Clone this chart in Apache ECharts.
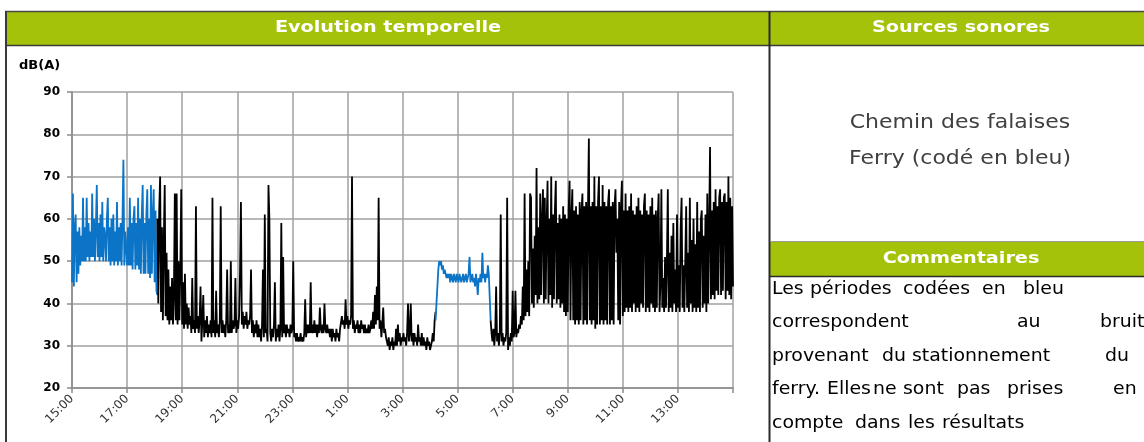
<!DOCTYPE html>
<html><head><meta charset="utf-8">
<script src="https://cdn.jsdelivr.net/npm/echarts@6/dist/echarts.min.js"></script>
<style>html,body{margin:0;padding:0;background:#fff}#c{width:1144px;height:442px}</style>
</head><body><div id="c"></div>
<script>
// ---- tick labels ----
const xTickLabels = ['15:00','17:00','19:00','21:00','23:00','1:00','3:00','5:00','7:00','9:00','11:00','13:00',''];
const yMin = 20, yMax = 90, yStep = 10;
const xSpanMinutes = 1440, xTickMinutes = 120;
const stepMinutes = 2; // sampling step of the series below (minutes)

// ---- series values dB(A) ----
// Ferry (blue) 15:00 -> 18:06
const blueEveningStart = 0;
const blueEvening = [
45,66,44,58,61,45,57,47,58,49, 56,50,65,50,58,50,65,51,59,50,
57,51,66,51,60,50,58,68,51,59, 50,61,51,64,50,58,56,50,60,65,
50,58,49,60,50,61,49,57,50,64, 49,58,50,59,49,60,74,49,57,53,
49,58,49,65,49,59,48,60,63,48, 59,49,65,48,60,47,61,68,47,59,
47,61,67,47,60,46,68,47,61,67, 45,62,43,42
];
// Night (black) 18:06 -> 4:12
const blackNightStart = 186;
const blackNight = [
60,40,62,70,38,58,36,55,68,37, 52,36,48,35,44,36,46,35,42,66,
36,66,35,50,36,48,67,35,45,34, 47,35,40,34,39,35,37,33,46,34,
36,33,63,34,37,33,36,44,31,36, 42,32,36,33,37,32,35,33,36,32,
65,33,36,32,43,33,35,32,36,63, 33,36,33,35,32,36,48,33,35,33,
50,33,36,34,35,46,33,36,34,37, 47,64,35,38,34,37,35,38,34,36,
35,37,48,33,36,32,35,33,36,32, 35,32,34,31,35,48,32,61,33,34,
31,68,60,33,31,34,32,35,45,31, 34,32,35,31,34,59,32,51,33,35,
32,35,33,34,32,35,33,34,50,32, 33,31,33,31,32,31,33,31,32,31,
33,41,32,35,33,35,33,45,33,35, 33,36,33,35,32,35,33,39,34,33,
35,33,40,34,33,35,33,34,32,34, 31,34,32,33,31,34,32,33,31,34,
34,37,35,36,34,41,35,37,34,36, 35,37,70,34,36,33,35,34,36,33,
35,33,36,34,35,33,35,33,34,33, 35,33,34,36,34,38,34,42,35,44,
36,65,34,36,32,35,39,33,34,32, 31,30,32,29,31,30,32,29,31,30,
34,30,35,31,33,30,32,31,33,31, 32,30,33,40,31,33,40,31,33,30,
33,31,32,30,35,31,32,30,33,30, 32,30,31,29,32,30,31,29,29,31,
33,31,36,38
];
// Ferry (blue) 4:12 -> 6:12
const blueMorningStart = 792;
const blueMorning = [
36,40,44,48,50,49,50,48,49,47, 48,47,46,47,46,47,45,47,46,45,
47,46,45,47,46,45,47,46,45,46, 47,45,46,47,45,46,47,51,45,46,
47,45,46,44,47,45,42,46,45,47, 45,52,46,47,45,47,46,49,47,47,
36
];
// Day (black) 6:12 -> 15:00
const blackDayStart = 912;
const blackDay = [
36,33,31,34,30,33,44,31,33,30, 33,61,31,33,30,32,31,33,65,29,
32,30,33,31,43,32,33,43,32,34, 33,35,34,37,35,44,36,66,37,48,
38,50,37,66,65,40,53,39,56,42, 72,40,58,41,66,42,60,67,40,65,
41,59,69,40,60,42,70,39,61,41, 62,69,40,59,41,61,39,60,40,63,
38,61,37,60,38,62,69,36,61,67, 36,62,35,63,36,61,35,64,36,62,
66,35,63,36,64,35,62,79,36,63, 35,64,36,70,34,63,35,64,70,35,
63,36,68,35,64,36,63,35,64,67, 35,63,36,64,35,63,67,52,60,36,
64,35,63,69,37,62,38,66,39,62, 38,63,39,66,38,62,40,61,38,63,
39,65,38,62,40,61,39,63,66,38, 62,39,61,38,63,40,65,39,61,38,
62,39,60,66,38,45,67,39,46,38, 51,39,50,67,38,52,39,56,38,59,
40,48,38,61,39,49,38,58,65,39, 49,38,50,63,39,52,38,65,40,55,
38,60,39,54,38,64,39,57,38,60, 62,39,56,40,61,38,66,40,58,77,
41,62,42,64,41,67,43,63,42,65, 67,42,64,43,65,66,41,64,43,70,
42,65,41,63,44
];

// ---- texts ----
const panelTitle = 'Evolution temporelle';
const sourcesTitle = 'Sources sonores';
const sourcesLines = ['Chemin des falaises', 'Ferry (codé en bleu)'];
const commentsTitle = 'Commentaires';
const yUnit = 'dB(A)';

function toPairs(start, arr) { return arr.map((v, i) => [start + i * stepMinutes, v]); }

const GREEN = '#a5c20b';
const BLUE = '#0b74c6';
const TXT = 'DejaVu Sans, Verdana, sans-serif';

// comment text, word by word (justified in the reference)
const commentWords = [
  [['Les',772],['périodes',810],['codées',903],['en',982],['bleu',1023]],
  [['correspondent',772],['au',1017],['bruit',1100]],
  [['provenant',772],['du',882],['stationnement',912],['du',1105]],
  [['ferry.',772],['Elles',827],['ne',873],['sont',903],['pas',957],['prises',1007],['en',1113]],
  [['compte',772],['dans',855],['les',908],['résultats',942]]
];
const commentY = [289, 322, 356, 389, 423];

const graphic = [];
// header bands
graphic.push({type:'rect', shape:{x:6,y:12,width:763,height:33}, style:{fill:GREEN}, silent:true});
graphic.push({type:'rect', shape:{x:770,y:12,width:374,height:33}, style:{fill:GREEN}, silent:true});
graphic.push({type:'rect', shape:{x:770,y:242,width:374,height:34}, style:{fill:GREEN}, silent:true});
// frame lines
const lines = [
  [5,11.5,1144,11.5,'#4a4a4a',1.5],
  [6,45.5,1144,45.5,'#3a3a3a',1.5],
  [6,11,6,442,'#3a3a3a',2],
  [769.5,11,769.5,442,'#2a2a2a',2],
  [770,241.5,1144,241.5,'#9a9a9a',1],
  [770,276.5,1144,276.5,'#2a2a2a',1.5]
];
lines.forEach(l => graphic.push({type:'line', shape:{x1:l[0],y1:l[1],x2:l[2],y2:l[3]}, style:{stroke:l[4],lineWidth:l[5]}, silent:true}));
// titles (stretched horizontally to mimic the wide geometric face)
const stretchedText = (t, x, y, font, fill, align, sx) => ({type:'text', x, y, scaleX:sx, silent:true,
  style:{text:t, x:0, y:0, fill, font, textAlign:align, textVerticalAlign:'middle'}});
graphic.push(stretchedText(panelTitle, 388, 28, 'bold 16px '+TXT, '#fff', 'center', 1.2));
graphic.push(stretchedText(sourcesTitle, 961, 28, 'bold 16px '+TXT, '#fff', 'center', 1.2));
graphic.push(stretchedText(commentsTitle, 961, 259, 'bold 16px '+TXT, '#fff', 'center', 1.2));
sourcesLines.forEach((t, i) => graphic.push(stretchedText(t, 960, 123 + i*36, '20px '+TXT, '#404040', 'center', 1.1)));
commentWords.forEach((line, li) => line.forEach(w => graphic.push(stretchedText(w[0], w[1], commentY[li], '18px '+TXT, '#000', 'left', 1.05))));
graphic.push({type:'text', silent:true, style:{text:yUnit, x:19, y:66, fill:'#000', font:'bold 13px '+TXT, textAlign:'left', textVerticalAlign:'middle'}});

const chart = echarts.init(document.getElementById('c'), null, {renderer:'canvas'});
const lineSeries = (data, color, w) => ({type:'line', data, showSymbol:false, symbol:'none', sampling:null,
  lineStyle:{color, width:w}, itemStyle:{color}, animation:false, silent:true});

chart.setOption({
  animation:false,
  backgroundColor:'#fff',
  grid:{left:72, right:411, top:92, bottom:54, containLabel:false},
  xAxis:{type:'value', min:0, max:xSpanMinutes, interval:xTickMinutes,
    axisLine:{show:true, lineStyle:{color:'#8a8a8a', width:1.5}},
    axisTick:{show:true, length:5, lineStyle:{color:'#8a8a8a', width:1.5}},
    splitLine:{show:true, lineStyle:{color:'#a0a0a0', width:1.5}},
    axisLabel:{rotate:45, margin:9, fontSize:12, color:'#333', fontFamily:TXT,
      formatter:(v)=> xTickLabels[Math.round(v / xTickMinutes)] || ''}},
  yAxis:{type:'value', min:yMin, max:yMax, interval:yStep,
    axisLine:{show:true, lineStyle:{color:'#8a8a8a', width:1.5}},
    axisTick:{show:true, length:5, lineStyle:{color:'#8a8a8a', width:1.5}},
    splitLine:{show:true, lineStyle:{color:'#a0a0a0', width:1.5}},
    axisLabel:{margin:12, fontSize:12, fontWeight:'bold', color:'#000', fontFamily:TXT}},
  series:[
    lineSeries(toPairs(blueEveningStart, blueEvening), BLUE, 1.8),
    lineSeries(toPairs(blackNightStart, blackNight), '#000', 1.8),
    lineSeries(toPairs(blueMorningStart, blueMorning), BLUE, 1.8),
    lineSeries(toPairs(blackDayStart, blackDay), '#000', 1.8)
  ],
  graphic
});
</script></body></html>
